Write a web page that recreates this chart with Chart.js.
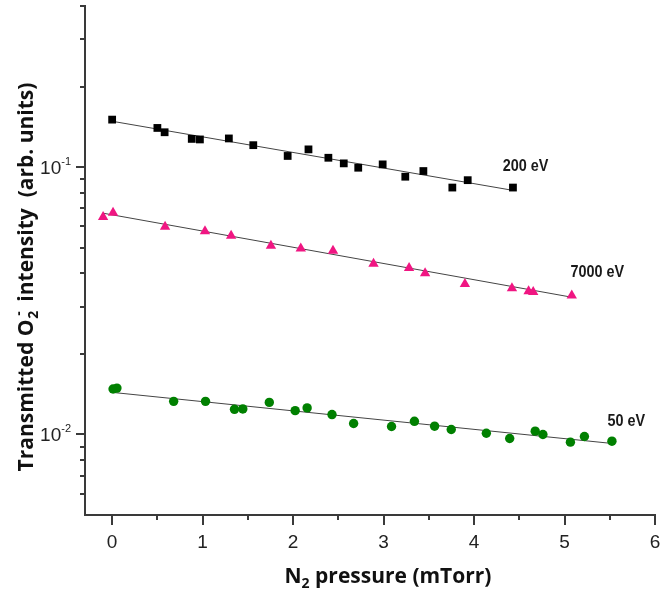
<!DOCTYPE html>
<html><head><meta charset="utf-8">
<script src="https://cdn.jsdelivr.net/npm/chart.js@4"></script>
<style>html,body{margin:0;padding:0;background:#fff}#wrap{width:661px;height:593px;position:relative}</style>
</head><body><div id="wrap"><canvas id="c" width="661" height="593"></canvas></div>
<script>
// ---- data ----
const x200 = [0.00, 0.50, 0.58, 0.88, 0.97, 1.29, 1.56, 1.94, 2.17, 2.39, 2.56, 2.72, 2.99, 3.24, 3.44, 3.76, 3.93, 4.43];
const y200 = [0.1504, 0.140, 0.1349, 0.1274, 0.1268, 0.1279, 0.1207, 0.110, 0.1164, 0.1083, 0.1032, 0.0994, 0.1023, 0.092, 0.0966, 0.0838, 0.0893, 0.0838];
const x7000 = [-0.10, 0.01, 0.585, 1.026, 1.315, 1.755, 2.085, 2.441, 2.889, 3.282, 3.459, 3.899, 4.419, 4.603, 4.654, 5.08];
const y7000 = [0.0650, 0.0675, 0.0598, 0.0575, 0.0554, 0.0508, 0.0496, 0.0486, 0.0435, 0.0419, 0.0401, 0.0365, 0.0352, 0.0343, 0.0341, 0.0331];
const x50 = [0.01, 0.053, 0.680, 1.032, 1.352, 1.444, 1.737, 2.023, 2.155, 2.430, 2.669, 3.088, 3.341, 3.564, 3.748, 4.136, 4.394, 4.676, 4.761, 5.065, 5.220, 5.524];
const y50 = [0.01479, 0.01491, 0.01330, 0.01330, 0.01242, 0.01246, 0.01318, 0.01228, 0.01257, 0.01187, 0.01099, 0.01071, 0.01120, 0.01074, 0.01044, 0.01011, 0.00966, 0.01029, 0.0100, 0.00936, 0.00983, 0.00944];
const fit200X = [0, 4.43];   const fit200Y = [0.1483, 0.0818];
const fit7000X = [-0.10, 5.08]; const fit7000Y = [0.0672, 0.0326];
const fit50X = [0.01, 5.52]; const fit50Y = [0.01436, 0.00926];
const seriesNames = ['200 eV', '7000 eV', '50 eV'];
const seriesLabelX = [4.317, 5.066, 5.474];
const seriesLabelY = [0.0966, 0.03868, 0.0108];
const xMajorTicks = [0, 1, 2, 3, 4, 5, 6];
const xTickLabels = ['0', '1', '2', '3', '4', '5', '6'];
const xMinorTicks = [0.5, 1.5, 2.5, 3.5, 4.5, 5.5];
const yMajorTicks = [0.01, 0.1];
const yTickExponents = ['-2', '-1'];
const yMinorTicks = [0.006, 0.007, 0.008, 0.009, 0.02, 0.03, 0.04, 0.05, 0.06, 0.07, 0.08, 0.09, 0.2, 0.3, 0.4];
const xRange = [-0.3, 6];
const yRange = [0.005, 0.4];

const pts = (xs, ys) => xs.map((x, i) => ({x, y: ys[i]}));

const AXIS = '#3a3a3a';
const TITLE_FONT = '"Open Sans", "Noto Sans", sans-serif';
const decor = {
  id: 'decor',
  afterDraw(chart) {
    const ctx = chart.ctx, xs = chart.scales.x, ys = chart.scales.y;
    const ca = chart.chartArea;
    ctx.save();
    ctx.strokeStyle = AXIS; ctx.lineWidth = 2;
    ctx.beginPath();
    xMajorTicks.forEach(v => { const p = Math.round(xs.getPixelForValue(v)); ctx.moveTo(p, ca.bottom); ctx.lineTo(p, ca.bottom + 10); });
    xMinorTicks.forEach(v => { const p = Math.round(xs.getPixelForValue(v)); ctx.moveTo(p, ca.bottom); ctx.lineTo(p, ca.bottom + 5); });
    yMajorTicks.forEach(v => { const p = Math.round(ys.getPixelForValue(v)); ctx.moveTo(ca.left, p); ctx.lineTo(ca.left - 9, p); });
    yMinorTicks.forEach(v => { const p = Math.round(ys.getPixelForValue(v)); ctx.moveTo(ca.left, p); ctx.lineTo(ca.left - 5, p); });
    ctx.stroke();
    ctx.fillStyle = '#222';
    ctx.font = '19px "Liberation Sans", Arial, sans-serif';
    ctx.textAlign = 'center'; ctx.textBaseline = 'alphabetic';
    xMajorTicks.forEach((v, i) => ctx.fillText(xTickLabels[i], xs.getPixelForValue(v), ca.bottom + 33));
    yMajorTicks.forEach((v, i) => {
      const p = ys.getPixelForValue(v);
      const right = ca.left - 14;
      ctx.font = '11px "Liberation Sans", Arial, sans-serif';
      ctx.textAlign = 'right';
      const sw = ctx.measureText(yTickExponents[i]).width;
      ctx.fillText(yTickExponents[i], right, p - 2);
      ctx.font = '19px "Liberation Sans", Arial, sans-serif';
      ctx.fillText('10', right - sw, p + 7);
    });
    ctx.fillStyle = '#1a1a1a';
    ctx.textAlign = 'left';
    seriesNames.forEach((t, i) => {
      const px = xs.getPixelForValue(seriesLabelX[i]);
      const py = ys.getPixelForValue(seriesLabelY[i]);
      ctx.save();
      ctx.translate(px, py); ctx.scale(0.9, 1);
      ctx.font = 'bold 16px "Liberation Sans", Arial, sans-serif';
      ctx.fillText(t, 0, 0);
      ctx.restore();
    });
    const drawRich = (segs, x, y, rot) => {
      ctx.save();
      ctx.translate(x, y); ctx.rotate(rot);
      let total = 0;
      segs.forEach(s => { ctx.font = `bold ${s.size}px ${TITLE_FONT}`; s.w = ctx.measureText(s.t).width; total += (s.adv === undefined ? s.w : s.adv) + (s.dx || 0); });
      let cx = -total / 2;
      ctx.textAlign = 'left';
      ctx.fillStyle = '#111';
      segs.forEach(s => { ctx.font = `bold ${s.size}px ${TITLE_FONT}`; cx += (s.dx || 0); ctx.fillText(s.t, cx, s.dy || 0); cx += s.adv === undefined ? s.w : s.adv; });
      ctx.restore();
    };
    drawRich([{t: 'N', size: 21}, {t: '2', size: 14, dy: 5}, {t: ' pressure (mTorr)', size: 21}], 388, 583, 0);
    drawRich([{t: 'Transmitted O', size: 21}, {t: '2', size: 14, dy: 5, adv: 0, dx: 1}, {t: '-', size: 14, dy: -10, dx: 3}, {t: ' intensity  (arb. units)', size: 21, dx: 4}], 33, 277, -Math.PI / 2);
    ctx.restore();
  }
};

new Chart(document.getElementById('c'), {
  type: 'scatter',
  data: {
    datasets: [
      {data: pts(fit200X, fit200Y), type: 'line', showLine: true, borderColor: '#444', borderWidth: 1, pointRadius: 0, order: 5},
      {data: pts(fit7000X, fit7000Y), type: 'line', showLine: true, borderColor: '#444', borderWidth: 1, pointRadius: 0, order: 5},
      {data: pts(fit50X, fit50Y), type: 'line', showLine: true, borderColor: '#444', borderWidth: 1, pointRadius: 0, order: 5},
      {label: seriesNames[0], data: pts(x200, y200), pointStyle: 'rect', pointRadius: 5.5, backgroundColor: '#000', borderColor: '#000', borderWidth: 0, order: 1},
      {label: seriesNames[1], data: pts(x7000, y7000), pointStyle: 'triangle', pointRadius: 6, backgroundColor: 'rgb(240,22,130)', borderColor: 'rgb(240,22,130)', borderWidth: 0, order: 1},
      {label: seriesNames[2], data: pts(x50, y50), pointStyle: 'circle', pointRadius: 4.7, backgroundColor: 'rgb(0,128,0)', borderColor: 'rgb(0,128,0)', borderWidth: 0, order: 1}
    ]
  },
  options: {
    responsive: false, animation: false,
    layout: {padding: {left: 0, top: 4, right: 4, bottom: 0}},
    plugins: {legend: {display: false}, tooltip: {enabled: false}},
    scales: {
      x: {type: 'linear', min: xRange[0], max: xRange[1],
          grid: {display: false, drawTicks: false}, ticks: {display: false},
          border: {display: true, color: AXIS, width: 2},
          afterFit(s) { s.height = 78; }},
      y: {type: 'logarithmic', min: yRange[0], max: yRange[1],
          grid: {display: false, drawTicks: false}, ticks: {display: false},
          border: {display: true, color: AXIS, width: 2},
          afterFit(s) { s.width = 85; }}
    }
  },
  plugins: [decor]
});
</script>
</body></html>
